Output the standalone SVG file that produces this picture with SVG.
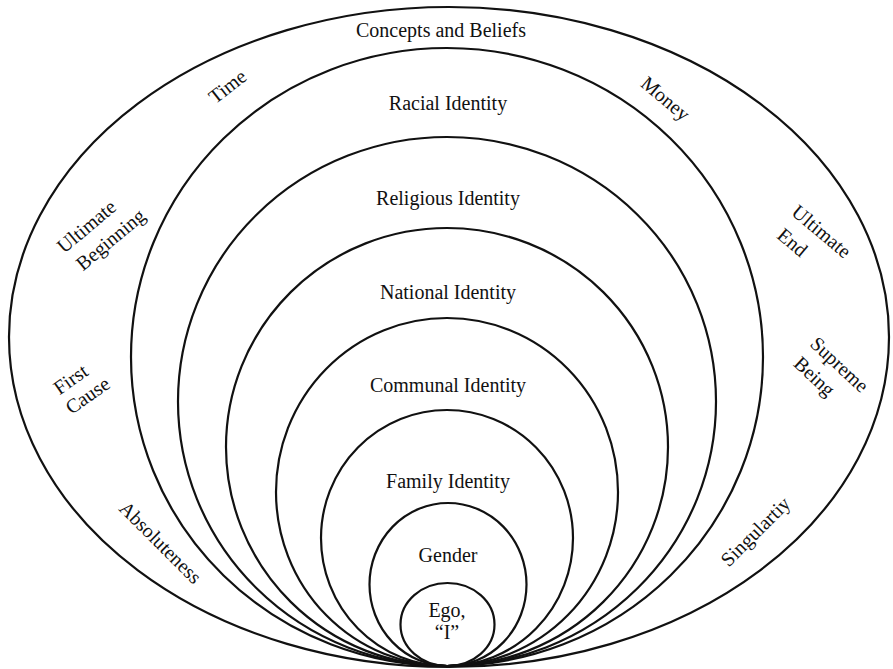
<svg xmlns="http://www.w3.org/2000/svg" width="893" height="669" viewBox="0 0 893 669">
<style>
.ring{fill:none;stroke:#111;stroke-width:2.2}
text{font-family:"Liberation Serif","Times New Roman",serif;font-size:20px;fill:#111;text-anchor:middle}
</style>
<rect width="893" height="669" fill="#fff"/>
<g id="rings">
<g id="concepts"><ellipse class="ring" cx="449" cy="337" rx="440" ry="330"/></g>
<g id="racial"><ellipse class="ring" cx="447" cy="357" rx="316" ry="309"/></g>
<g id="religious"><ellipse class="ring" cx="447" cy="401.5" rx="269" ry="264.5"/></g>
<g id="national"><ellipse class="ring" cx="447" cy="447" rx="221" ry="219"/></g>
<g id="communal"><ellipse class="ring" cx="447" cy="492" rx="171" ry="174"/></g>
<g id="family"><ellipse class="ring" cx="447" cy="538" rx="126" ry="128"/></g>
<g id="gender"><ellipse class="ring" cx="448" cy="584.5" rx="78.5" ry="81.5"/></g>
<g id="ego"><ellipse class="ring" cx="447.5" cy="624.5" rx="47" ry="41.5"/></g>
</g>
<g id="labels">
<text x="441" y="37">Concepts and Beliefs</text>
<text x="448" y="110">Racial Identity</text>
<text x="448" y="205">Religious Identity</text>
<text x="448" y="299">National Identity</text>
<text x="448" y="392">Communal Identity</text>
<text x="448" y="488">Family Identity</text>
<text x="448" y="562">Gender</text>
<text x="447" y="617">Ego,</text>
<text x="447" y="639">“I”</text>
<text transform="translate(228,87) rotate(-38)" y="6">Time</text>
<text transform="translate(665,99) rotate(40)" y="6">Money</text>
<text transform="translate(87,227) rotate(-40)" y="6">Ultimate</text>
<text transform="translate(111,240) rotate(-40)" y="6">Beginning</text>
<text transform="translate(71,380) rotate(-35)" y="6">First</text>
<text transform="translate(88,396) rotate(-35)" y="6">Cause</text>
<text transform="translate(821,232) rotate(40)" y="6">Ultimate</text>
<text transform="translate(792,243) rotate(40)" y="6">End</text>
<text transform="translate(839,365) rotate(43)" y="6">Supreme</text>
<text transform="translate(814,377) rotate(43)" y="6">Being</text>
<text transform="translate(160,543) rotate(45)" y="6">Absoluteness</text>
<text transform="translate(756,532) rotate(-45)" y="6">Singulartiy</text>
</g>
</svg>
